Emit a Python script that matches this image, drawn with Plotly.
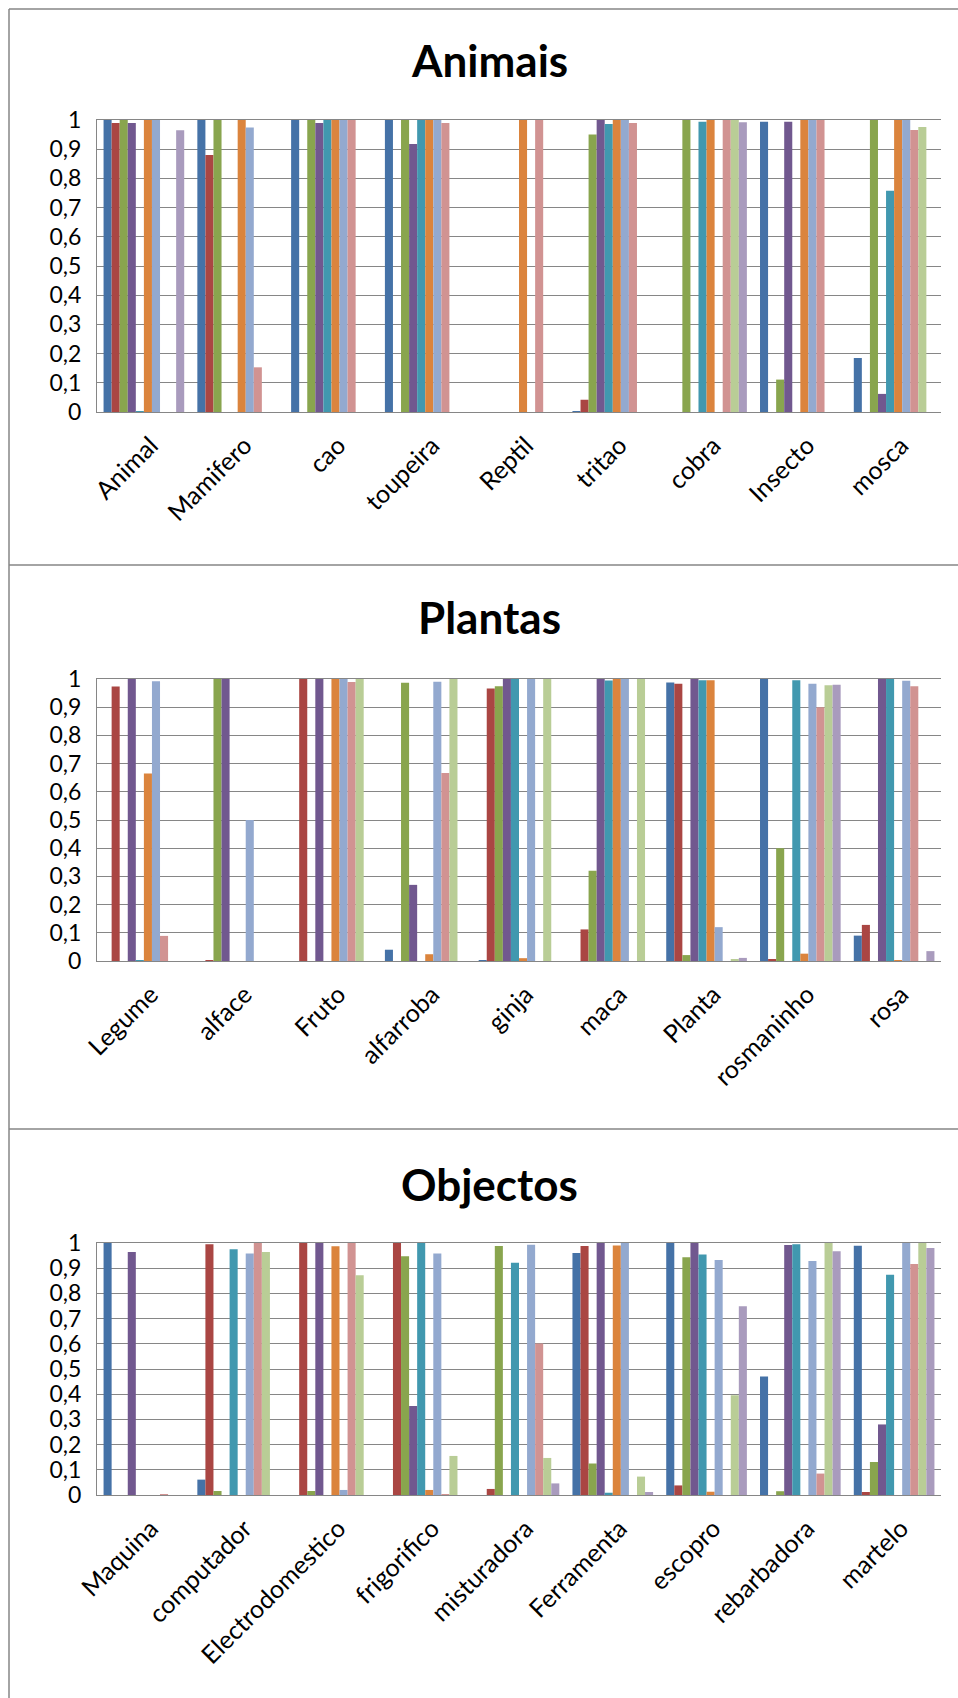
import plotly.graph_objects as go

W, H = 958, 1698

# Series colours (Office 2007 chart palette)
SERIES_COLORS = ["#4572A7", "#AA4643", "#89A54E", "#71588F", "#4198AF",
                 "#DB843D", "#93A9CF", "#D19392", "#B9CD96", "#A99BBD"]
SERIES_NAMES = [f"Série {i}" for i in range(1, 11)]

Y_TICK_VALUES = [0, 0.1, 0.2, 0.3, 0.4, 0.5, 0.6, 0.7, 0.8, 0.9, 1]
Y_TICK_LABELS = ["0", "0,1", "0,2", "0,3", "0,4", "0,5", "0,6", "0,7", "0,8", "0,9", "1"]

# --- Animais ---
animais_categories = ["Animal", "Mamifero", "cao", "toupeira", "Reptil",
                      "tritao", "cobra", "Insecto", "mosca"]
animais_values = [  # one row per category, one column per series
    [1.0, 0.99, 1.0, 0.99, 0.003, 1.0, 1.0, 0, 0, 0.965],
    [1.0, 0.88, 1.0, 0, 0, 1.0, 0.974, 0.153, 0, 0],
    [1.0, 0, 1.0, 0.99, 1.0, 1.0, 1.0, 1.0, 0, 0],
    [1.0, 0, 1.0, 0.918, 1.0, 1.0, 1.0, 0.99, 0, 0],
    [0, 0, 0, 0, 0, 1.0, 0, 1.0, 0, 0],
    [0.003, 0.042, 0.95, 1.0, 0.986, 1.0, 1.0, 0.99, 0, 0],
    [0, 0, 1.0, 0, 0.994, 1.0, 0, 1.0, 1.0, 0.992],
    [0.994, 0, 0.111, 0.994, 0, 1.0, 1.0, 1.0, 0, 0],
    [0.185, 0, 1.0, 0.062, 0.758, 1.0, 1.0, 0.966, 0.976, 0],
]

# --- Plantas ---
plantas_categories = ["Legume", "alface", "Fruto", "alfarroba", "ginja",
                      "maca", "Planta", "rosmaninho", "rosa"]
plantas_values = [
    [0, 0.973, 0, 1.0, 0.002, 0.665, 0.992, 0.089, 0, 0],
    [0, 0.002, 1.0, 1.0, 0, 0, 0.5, 0, 0, 0],
    [0, 1.0, 0, 1.0, 0, 1.0, 1.0, 0.989, 1.0, 0],
    [0.04, 0, 0.987, 0.27, 0, 0.024, 0.99, 0.667, 1.0, 0],
    [0.002, 0.966, 0.974, 1.0, 1.0, 0.01, 1.0, 0, 1.0, 0],
    [0, 0.112, 0.32, 1.0, 0.995, 1.0, 1.0, 0, 1.0, 0],
    [0.988, 0.983, 0.021, 1.0, 0.996, 0.996, 0.12, 0, 0.005, 0.011],
    [1.0, 0.005, 0.4, 0, 0.996, 0.026, 0.983, 0.9, 0.978, 0.98],
    [0.09, 0.128, 0, 1.0, 1.0, 0.002, 0.994, 0.974, 0, 0.035],
]

# --- Objectos ---
objectos_categories = ["Maquina", "computador", "Electrodomestico", "frigorifico",
                       "misturadora", "Ferramenta", "escopro", "rebarbadora", "martelo"]
objectos_values = [
    [1.0, 0, 0, 0.964, 0, 0, 0, 0.002, 0, 0],
    [0.061, 0.995, 0.016, 0, 0.975, 0, 0.958, 1.0, 0.964, 0],
    [0, 1.0, 0.016, 1.0, 0, 0.987, 0.02, 1.0, 0.872, 0],
    [0, 1.0, 0.947, 0.353, 1.0, 0.02, 0.958, 0.002, 0.155, 0],
    [0, 0.024, 0.988, 0, 0.922, 0, 0.993, 0.601, 0.147, 0.046],
    [0.96, 0.988, 0.125, 1.0, 0.009, 0.99, 1.0, 0, 0.073, 0.012],
    [1.0, 0.038, 0.943, 1.0, 0.954, 0.013, 0.933, 0, 0.396, 0.749],
    [0.47, 0, 0.015, 0.992, 0.995, 0, 0.929, 0.085, 1.0, 0.967],
    [0.989, 0.012, 0.131, 0.28, 0.874, 0, 1.0, 0.917, 1.0, 0.98],
]

panel_titles = ["Animais", "Plantas", "Objectos"]

# Pixel layout of each panel: (plot top, plot bottom, title centre)
PANELS = [
    (animais_categories, animais_values, 120, 412, 60),
    (plantas_categories, plantas_values, 679, 961, 617),
    (objectos_categories, objectos_values, 1243, 1495, 1184),
]
PLOT_LEFT, PLOT_RIGHT = 97, 941
FRAME_X, FRAME_TOP = 9, 9
SEPARATORS = [565, 1129]
GRID = "#868686"
FONT = "Lato"


def py(px):
    return 1 - px / H


fig = go.Figure()
layout = dict(
    template="none",
    width=W, height=H,
    autosize=False,
    margin=dict(l=0, r=0, t=0, b=0, pad=0, autoexpand=False),
    paper_bgcolor="white", plot_bgcolor="white",
    barmode="group", bargap=0.14, bargroupgap=0,
    showlegend=False,
    font=dict(family=FONT, size=22, color="black"),
    annotations=[], shapes=[],
)

for p, (cats, rows, top, bottom, title_y) in enumerate(PANELS):
    suffix = "" if p == 0 else str(p + 1)
    for s in range(10):
        fig.add_trace(go.Bar(
            x=cats, y=[row[s] for row in rows],
            name=SERIES_NAMES[s],
            marker=dict(color=SERIES_COLORS[s], line=dict(width=0)),
            xaxis="x" + suffix, yaxis="y" + suffix,
        ))
    layout["xaxis" + suffix] = dict(
        domain=[PLOT_LEFT / W, PLOT_RIGHT / W],
        anchor="y" + suffix,
        type="category",
        automargin=False,
        tickangle=-45,
        showline=True, linecolor=GRID, linewidth=1, mirror=True,
        showgrid=False, ticks="",
        ticklabelstandoff=8,
        ticklabelshift=7,
        tickfont=dict(family=FONT, size=25, color="black"),
    )
    layout["yaxis" + suffix] = dict(
        domain=[py(bottom), py(top)],
        anchor="x" + suffix,
        automargin=False,
        range=[0, 1],
        tickvals=Y_TICK_VALUES, ticktext=Y_TICK_LABELS,
        showgrid=True, gridcolor=GRID, gridwidth=1,
        showline=True, linecolor=GRID, linewidth=1,
        zeroline=False, ticks="",
        ticklabelstandoff=10,
        tickfont=dict(family=FONT, size=23, color="black"),
    )
    layout["annotations"].append(dict(
        text="<b>" + panel_titles[p] + "</b>",
        xref="paper", yref="paper", x=489 / W, y=py(title_y),
        xanchor="center", yanchor="middle", showarrow=False,
        font=dict(family=FONT, size=44, color="black"),
    ))

# Chart frames
frame = dict(type="line", xref="paper", yref="paper",
             line=dict(color=GRID, width=1.5))
layout["shapes"].append(dict(frame, x0=FRAME_X / W, x1=FRAME_X / W, y0=0, y1=py(FRAME_TOP)))
layout["shapes"].append(dict(frame, x0=FRAME_X / W, x1=1, y0=py(FRAME_TOP), y1=py(FRAME_TOP)))
for sep in SEPARATORS:
    layout["shapes"].append(dict(frame, x0=FRAME_X / W, x1=1, y0=py(sep), y1=py(sep)))

fig.update_layout(**layout)
fig.write_html("out.html")
